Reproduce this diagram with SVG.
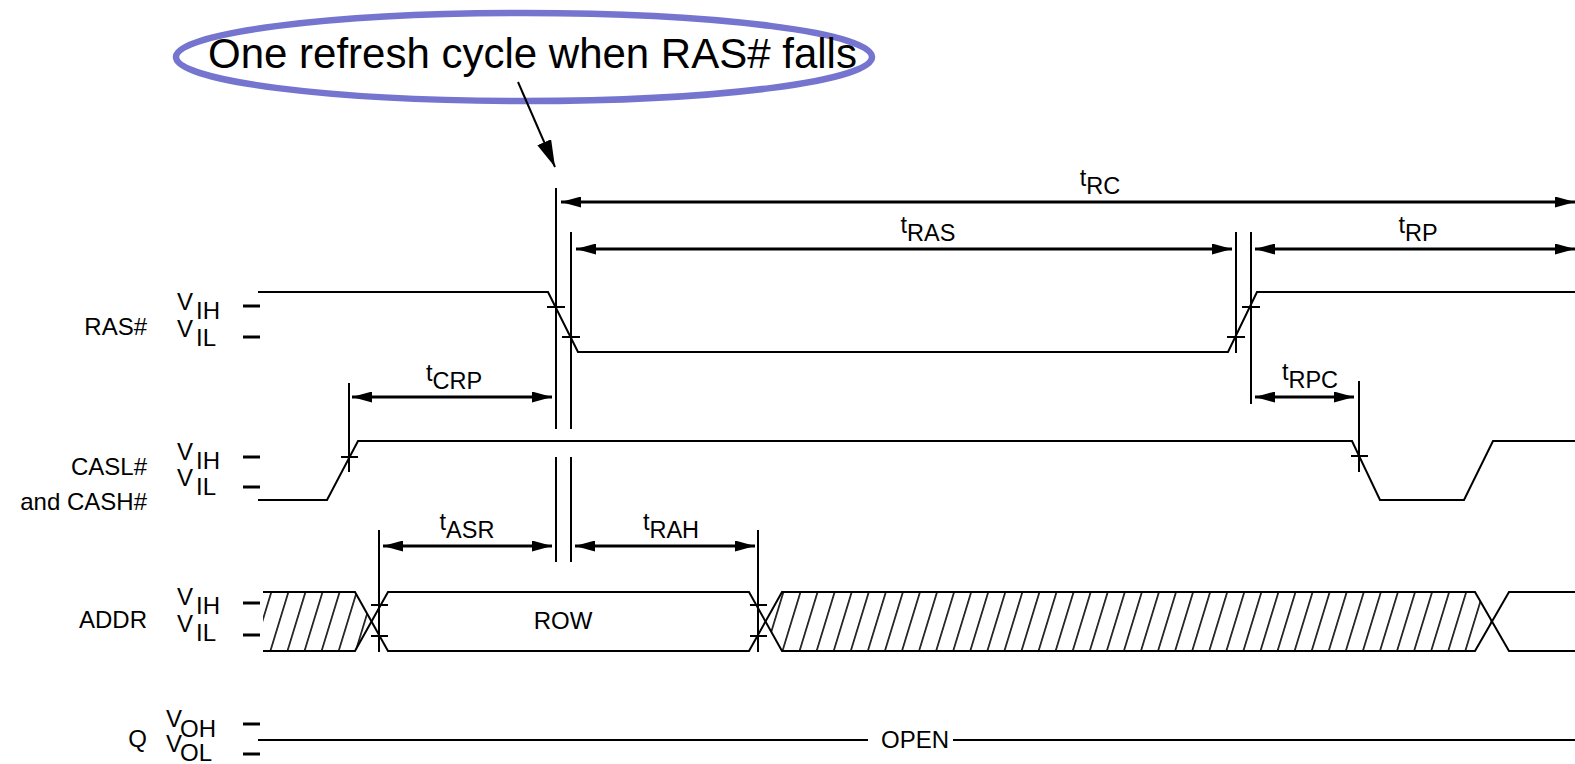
<svg xmlns="http://www.w3.org/2000/svg" width="1575" height="764" viewBox="0 0 1575 764">
<style>
  text { font-family: "Liberation Sans", Arial, sans-serif; fill: #000; }
  .lbl { font-size: 24px; }
  .tm { font-size: 23.5px; }
  .wave { fill: none; stroke: #000; stroke-width: 2; stroke-linejoin: miter; }
  .vl { stroke: #000; stroke-width: 2; }
  .tick { stroke: #000; stroke-width: 2; }
  .lev { stroke: #000; stroke-width: 3; }
  .dim { stroke: #000; stroke-width: 3; fill: none; marker-start: url(#ah); marker-end: url(#ah); }
</style>
<defs>
  <marker id="ah" markerUnits="userSpaceOnUse" markerWidth="20" markerHeight="11" refX="20" refY="5.5" orient="auto-start-reverse" viewBox="0 0 20 11">
    <path d="M0,0 L20,5.5 L0,11 z" fill="#000"/>
  </marker>
  <marker id="ah2" markerUnits="userSpaceOnUse" markerWidth="27" markerHeight="15" refX="27" refY="7.5" orient="auto" viewBox="0 0 27 15">
    <path d="M0,0 L27,7.5 L0,15 z" fill="#000"/>
  </marker>
  <pattern id="hatch" patternUnits="userSpaceOnUse" width="17.07" height="60" patternTransform="skewX(-17)">
    <line x1="8.5" y1="-1" x2="8.5" y2="61" stroke="#000" stroke-width="1.6"/>
  </pattern>
</defs>
<rect width="1575" height="764" fill="#fff"/>

<g id="callout">
  <ellipse cx="524" cy="57" rx="348" ry="44" fill="none" stroke="#7575cf" stroke-width="6.5"/>
  <text x="208" y="68" style="font-size:42px">One refresh cycle when RAS# falls</text>
</g>

<g id="signal-labels">
  <text class="lbl" x="147" y="335" text-anchor="end">RAS#</text>
  <text class="lbl" x="177" y="310">V</text><text class="lbl" x="196" y="319">IH</text>
  <text class="lbl" x="177" y="337">V</text><text class="lbl" x="196" y="346">IL</text>
  <line class="lev" x1="243" y1="306" x2="260" y2="306"/>
  <line class="lev" x1="243" y1="337" x2="260" y2="337"/>

  <text class="lbl" x="147" y="475" text-anchor="end">CASL#</text>
  <text class="lbl" x="147" y="510" text-anchor="end">and CASH#</text>
  <text class="lbl" x="177" y="460">V</text><text class="lbl" x="196" y="469">IH</text>
  <text class="lbl" x="177" y="486">V</text><text class="lbl" x="196" y="495">IL</text>
  <line class="lev" x1="243" y1="457" x2="260" y2="457"/>
  <line class="lev" x1="243" y1="487" x2="260" y2="487"/>

  <text class="lbl" x="147" y="628" text-anchor="end">ADDR</text>
  <text class="lbl" x="177" y="605">V</text><text class="lbl" x="196" y="614">IH</text>
  <text class="lbl" x="177" y="632">V</text><text class="lbl" x="196" y="641">IL</text>
  <line class="lev" x1="243" y1="603" x2="260" y2="603"/>
  <line class="lev" x1="243" y1="635" x2="260" y2="635"/>

  <text class="lbl" x="147" y="747" text-anchor="end">Q</text>
  <text class="lbl" x="166" y="727">V</text><text class="lbl" x="180" y="737">OH</text>
  <text class="lbl" x="166" y="752">V</text><text class="lbl" x="180" y="761">OL</text>
  <line class="lev" x1="243" y1="724" x2="260" y2="724"/>
  <line class="lev" x1="243" y1="754" x2="260" y2="754"/>
</g>

<g id="ras-wave">
  <polyline class="wave" points="258,292 548,292 578,352 1228,352 1257,292 1575,292"/>
  <line class="tick" x1="547" y1="307" x2="565" y2="307"/>
  <line class="tick" x1="562" y1="337" x2="580" y2="337"/>
  <line class="tick" x1="1227" y1="337" x2="1245" y2="337"/>
  <line class="tick" x1="1242" y1="307" x2="1260" y2="307"/>
</g>

<g id="cas-wave">
  <polyline class="wave" points="258,500 327,500 358,441 1352,441 1380,500 1464,500 1493,441 1575,441"/>
  <line class="tick" x1="341" y1="457" x2="358" y2="457"/>
  <line class="tick" x1="1351" y1="456" x2="1368" y2="456"/>
</g>

<g id="addr-wave">
  <polygon points="263,592 355,592 371.5,621.5 355,651 263,651" fill="url(#hatch)"/>
  <polygon points="765.5,621.5 782,592 1475,592 1492,621.5 1475,651 782,651" fill="url(#hatch)"/>
  <path class="wave" d="M263,592 H355 L388,651 H749 L782,592 H1475 L1509,651 H1575"/>
  <path class="wave" d="M263,651 H355 L388,592 H749 L782,651 H1475 L1509,592 H1575"/>
  <line class="tick" x1="371" y1="605" x2="388" y2="605"/>
  <line class="tick" x1="371" y1="636" x2="388" y2="636"/>
  <line class="tick" x1="750" y1="605" x2="767" y2="605"/>
  <line class="tick" x1="750" y1="636" x2="767" y2="636"/>
  <text class="lbl" x="563" y="629" text-anchor="middle">ROW</text>
</g>

<g id="q-wave">
  <line class="wave" x1="258" y1="740" x2="868" y2="740"/>
  <text class="lbl" x="881" y="748">OPEN</text>
  <line class="wave" x1="953" y1="740" x2="1575" y2="740"/>
</g>

<g id="reference-lines">
  <line class="vl" x1="556" y1="188" x2="556" y2="429"/>
  <line class="vl" x1="556" y1="457" x2="556" y2="562"/>
  <line class="vl" x1="571" y1="232" x2="571" y2="429"/>
  <line class="vl" x1="571" y1="457" x2="571" y2="562"/>
  <line class="vl" x1="1236" y1="232" x2="1236" y2="353"/>
  <line class="vl" x1="1251" y1="232" x2="1251" y2="404"/>
  <line class="vl" x1="1359" y1="381" x2="1359" y2="472"/>
  <line class="vl" x1="349" y1="383" x2="349" y2="472"/>
  <line class="vl" x1="379" y1="530" x2="379" y2="652"/>
  <line class="vl" x1="758" y1="530" x2="758" y2="652"/>
</g>

<g id="timing-labels">
  <text class="tm" x="1100" y="186" text-anchor="middle">t<tspan dy="8">RC</tspan></text>
  <text class="tm" x="928" y="233" text-anchor="middle">t<tspan dy="8">RAS</tspan></text>
  <text class="tm" x="1418" y="233" text-anchor="middle">t<tspan dy="8">RP</tspan></text>
  <text class="tm" x="1310" y="380" text-anchor="middle">t<tspan dy="8">RPC</tspan></text>
  <text class="tm" x="454" y="381" text-anchor="middle">t<tspan dy="8">CRP</tspan></text>
  <text class="tm" x="467" y="530" text-anchor="middle">t<tspan dy="8">ASR</tspan></text>
  <text class="tm" x="671" y="530" text-anchor="middle">t<tspan dy="8">RAH</tspan></text>
</g>

<g id="connectors">
  <line x1="518" y1="82" x2="555" y2="167" stroke="#000" stroke-width="2" marker-end="url(#ah2)"/>
  <line class="dim" x1="561" y1="202" x2="1575" y2="202"/>
  <line class="dim" x1="576" y1="249" x2="1232" y2="249"/>
  <line class="dim" x1="1255" y1="249" x2="1575" y2="249"/>
  <line class="dim" x1="1255" y1="397" x2="1354" y2="397"/>
  <line class="dim" x1="352" y1="397" x2="552" y2="397"/>
  <line class="dim" x1="383" y1="546" x2="552" y2="546"/>
  <line class="dim" x1="575" y1="546" x2="755" y2="546"/>
</g>
</svg>
